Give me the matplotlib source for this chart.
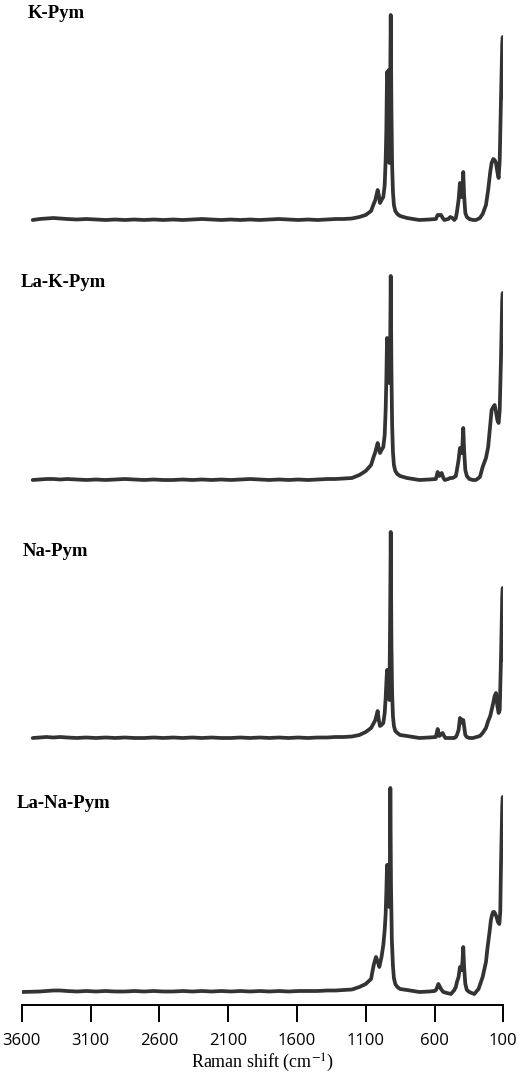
import matplotlib
matplotlib.use("Agg")
import matplotlib.pyplot as plt
import numpy as np

plt.rcParams["mathtext.fontset"] = "stix"

# ---------------- data (Raman shift in cm-1, intensity in arbitrary units) -------------
names = ["K-Pym", "La-K-Pym", "Na-Pym", "La-Na-Pym"]

base_shift = [3520, 3470, 3420, 3370, 3320, 3270, 3200, 3130, 3060, 2990, 2920,
              2850, 2780, 2710, 2640, 2570, 2500, 2430, 2360, 2290, 2220, 2150,
              2080, 2010, 1940, 1870, 1800, 1730, 1660, 1590, 1520, 1450, 1380,
              1320, 1260, 1200]
k_base = [0, 1, 1.5, 2, 1.5, 1, 0.5, 1, 0.5, 0, 0.5, 0, 0.5, 0, 0.5, 0, 0.5, 0,
          0.5, 1, 0.5, 0, 0.5, 0, 0.5, 0, 0.5, 1, 0.5, 0, 0.5, 0, 0.5, 1, 1, 1.5]
lak_base = [0, 0.5, 1, 1, 0.5, 1, 0.5, 0, 0.5, 0, 0.5, 1, 0.5, 0, 0.5, 0, 0, 0.5,
            0, 0.5, 0, 0.5, 0, 0.5, 1, 0.5, 0, 0.5, 0, 0.5, 0, 0.5, 1, 1, 1.5, 2]
na_base = [0, 0.5, 1, 0.5, 1, 0.5, 0, 0.5, 0, 0.5, 0, 0.5, 0, 0, 0.5, 0, 0.5, 0,
           0.5, 0, 0.5, 0, 0, 0.5, 0, 0.5, 0, 0.5, 0, 0.5, 0, 0.5, 0.5, 1, 1, 1.5]
lana_base = [0, 0.5, 1, 1.5, 1.5, 1, 0.5, 1, 0.5, 1, 0.5, 0.5, 1, 0.5, 1, 0.5, 0.5,
             1, 0.5, 1, 0.5, 1, 0.5, 1, 0.5, 1, 0.5, 1, 0.5, 1, 1, 1, 1.5, 1.5, 2, 2.5]

k_shift = [1146, 1100, 1061, 1045, 1030, 1013, 1005, 996, 985, 972, 962, 955, 950,
           945, 939, 933, 928, 923, 918, 913, 908, 902, 895, 885, 870, 850, 800,
           710, 640, 590, 577, 565, 553, 540, 529, 500, 485, 470, 456, 445, 437,
           425, 415, 408, 403, 397, 391, 385, 376, 365, 347, 320, 299, 270, 250,
           226, 210, 195, 185, 173, 163, 153, 143, 134, 126, 117, 108, 104, 100]
k_int = [3, 5, 9, 15, 20, 30, 25, 17, 20, 23, 35, 60, 90,
         148, 142, 150, 57, 120, 205, 110, 55, 28, 15, 9, 6, 4, 2,
         0, 0.5, 1, 5, 5, 5, 2, 0, 1, 3, 2, 0, 2, 8,
         20, 37, 30, 23, 30, 48, 25, 7, 3, 1, 0, 0, 2, 6,
         15, 30, 48, 57, 61, 60, 57, 48, 42, 60, 120, 175, 183, 123]

lak_shift = [1146, 1100, 1061, 1045, 1030, 1013, 1005, 996, 985, 972, 962, 955, 950,
             945, 939, 933, 928, 923, 918, 913, 908, 902, 895, 885, 870, 850, 800,
             710, 640, 590, 577, 565, 548, 535, 525, 500, 485, 470, 456, 445, 437,
             425, 415, 408, 403, 397, 391, 385, 376, 365, 347, 320, 299, 270, 250,
             226, 210, 195, 185, 173, 163, 153, 143, 134, 126, 117, 108, 104, 100]
lak_int = [5, 9, 15, 22, 28, 37, 32, 27, 30, 33, 45, 70, 100,
           142, 136, 140, 97, 120, 204, 110, 55, 28, 15, 9, 6, 4, 2,
           0, 0.5, 1, 8, 4, 7, 2, 0, 1, 2, 2, 3, 4, 10,
           20, 32, 30, 27, 35, 52, 30, 10, 4, 1, 0, 0, 3, 13,
           22, 33, 55, 70, 73, 75, 68, 60, 57, 70, 120, 180, 187, 167]

na_shift = [1146, 1100, 1061, 1045, 1030, 1013, 1005, 996, 985, 972, 962, 955, 950,
            945, 939, 933, 928, 923, 918, 913, 908, 902, 895, 885, 870, 850, 800,
            710, 640, 590, 577, 565, 548, 541, 530, 521, 500, 456, 445, 437,
            425, 415, 408, 403, 397, 391, 385, 376, 365, 347, 320, 270, 250,
            226, 210, 195, 185, 173, 163, 153, 143, 134, 126, 117, 108, 104, 100]
na_int = [3, 6, 10, 14, 18, 27, 18, 12, 13, 15, 25, 40, 55,
          68, 64, 67, 38, 110, 206, 95, 45, 22, 12, 7, 5, 3, 2,
          0, 0.5, 1, 9, 2, 4, 5, 2, 0, 0, 0, 1, 3,
          8, 20, 19, 18, 15, 18, 12, 3, 1, 0, 0, 2, 5,
          10, 17, 22, 28, 35, 42, 45, 32, 25, 28, 78, 140, 150, 78]

lana_shift = [1146, 1100, 1061, 1049, 1040, 1025, 1012, 1001, 985, 972, 962, 955, 950,
              945, 939, 933, 928, 924, 921, 916, 910, 902, 895, 885, 870, 850, 800,
              710, 640, 600, 589, 580, 572, 560, 553, 536, 510, 480, 456, 445, 437,
              425, 415, 408, 403, 397, 391, 385, 376, 365, 347, 330, 311, 280, 250,
              226, 214, 200, 190, 182, 174, 166, 158, 149, 139, 129, 122, 117, 108,
              104, 100]
lana_int = [5, 8, 13, 22, 28, 35, 30, 25, 35, 47, 62, 78, 100,
            127, 122, 127, 85, 120, 204, 105, 52, 26, 14, 8, 5, 3, 2,
            0, 0.5, 1, 2, 5, 8, 5, 3, 0, -1, -2, 2, 5, 10,
            15, 25, 23, 22, 30, 45, 25, 8, 2, 0, -1, -2, 3, 15,
            30, 45, 60, 72, 77, 80, 80, 78, 75, 70, 68, 80, 125, 185,
            195, 168]

tick_values = [3600, 3100, 2600, 2100, 1600, 1100, 600, 100]
xlabel = "Raman shift (cm$^{-1}$)"

# ---------------- layout -------------------------------------------------
W, H = 521, 1076
offsets = [785, 525, 267, 13]          # vertical offset of each trace
title_px = [(28, 18), (21, 287), (23, 556), (17, 808)]   # left, baseline (pixels)
starts = [3520, 3520, 3520, 3600]

fig = plt.figure(figsize=(W / 100, H / 100), dpi=100)
ax = fig.add_axes([21.7 / W, 1 - 1005 / H, (503.3 - 21.7) / W, 1005 / H])

series = [
    (k_base, k_shift, k_int),
    (lak_base, lak_shift, lak_int),
    (na_base, na_shift, na_int),
    (lana_base, lana_shift, lana_int),
]
color = "#333333"
for (b, s, i), off, st in zip(series, offsets, starts):
    xs = [st] + base_shift[1:] + s
    ys = [b[0]] + b[1:] + i
    ax.plot(xs, np.array(ys, dtype=float) + off, color=color, lw=2.7,
            solid_joinstyle="round", solid_capstyle="round")

ax.set_xlim(3600, 100)
ax.set_ylim(0, 1005)
ax.set_xticks(tick_values)
ax.set_xticklabels([str(t) for t in tick_values], family="Open Sans", fontsize=12)
ax.tick_params(axis="x", direction="out", length=12, width=1.4, pad=8, colors="black")
ax.set_yticks([])
for sp in ["left", "right", "top"]:
    ax.spines[sp].set_visible(False)
ax.spines["bottom"].set_linewidth(1.4)
ax.set_xlabel(xlabel, family="Liberation Serif", fontsize=13, labelpad=2)

for name, (px, py) in zip(names, title_px):
    fig.text(px / W, 1 - py / H, name, family="Liberation Serif", fontweight="bold",
             fontsize=13.5, ha="left", va="baseline")

fig.savefig("out.png", dpi=100)
